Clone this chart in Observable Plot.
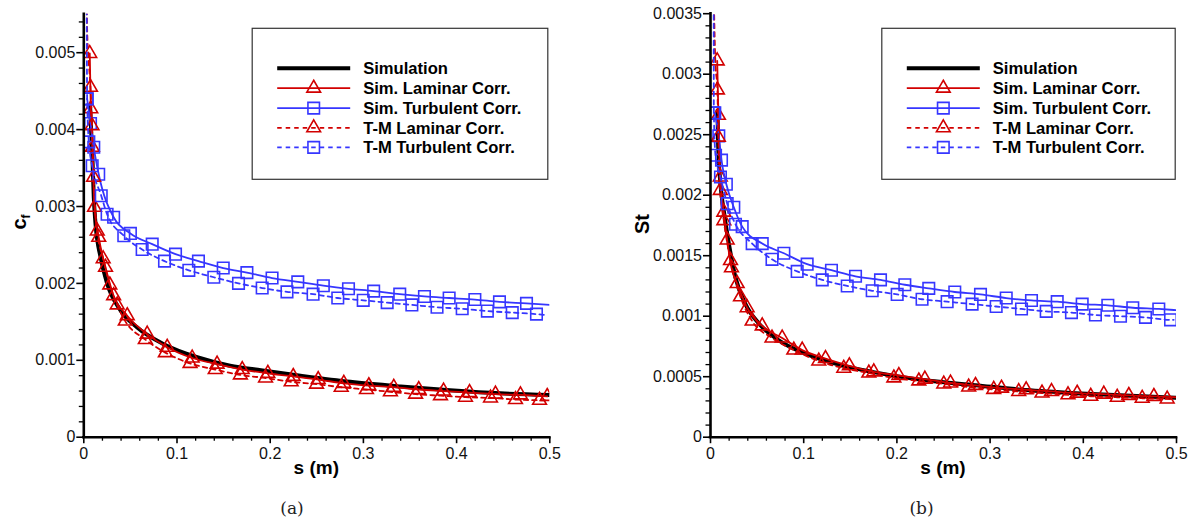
<!DOCTYPE html>
<html>
<head>
<meta charset="utf-8">
<script src="https://cdn.jsdelivr.net/npm/d3@7"></script>
<script src="https://cdn.jsdelivr.net/npm/@observablehq/plot@0.6"></script>
<style>
  html, body { margin: 0; padding: 0; background: #fff; }
  body { width: 1193px; height: 522px; overflow: hidden; position: relative; font-family: "Liberation Sans", Arial, sans-serif; }
  .panel { position: absolute; top: 0; }
  #overlay { position: absolute; left: 0; top: 0; pointer-events: none; }
</style>
</head>
<body>
<div id="pa" class="panel" style="left:0px"></div>
<div id="pb" class="panel" style="left:597px"></div>
<svg id="overlay" width="1193" height="522"></svg>
<script>
// ---------- Panel (a): skin friction coefficient c_f vs s (m) ----------
const aSimS  = [0.0068, 0.0078, 0.009, 0.0107, 0.0126, 0.018, 0.025, 0.0394, 0.057, 0.0858, 0.1217, 0.157, 0.19, 0.2325, 0.286, 0.34, 0.393, 0.447, 0.5];
const aSimV  = [0.0043, 0.0040, 0.00373, 0.00312, 0.00277, 0.00234, 0.0020, 0.00165, 0.00143, 0.00121, 0.00104, 0.00093, 0.00087, 0.0008, 0.00072, 0.00066, 0.00061, 0.00057, 0.00055];

const aSimLamS = [0.0064, 0.0075, 0.0092, 0.0115, 0.016, 0.0233, 0.032, 0.0466, 0.068, 0.0895, 0.1163, 0.143, 0.17, 0.1975, 0.2247, 0.2515, 0.279, 0.3058, 0.3326, 0.3594, 0.386, 0.4139, 0.4417, 0.4685, 0.4972];
const aSimLamV = [0.00499, 0.00427, 0.00377, 0.00299, 0.0026, 0.00221, 0.00184, 0.00158, 0.00134, 0.00117, 0.00103, 0.00095, 0.00088, 0.00083, 0.00079, 0.00075, 0.0007, 0.00067, 0.00065, 0.00062, 0.0006, 0.00058, 0.00056, 0.00055, 0.00053];

const aSimTurbS = [0.0036, 0.0072, 0.0107, 0.016, 0.032, 0.050, 0.0734, 0.0984, 0.123, 0.1496, 0.175, 0.202, 0.2296, 0.257, 0.284, 0.311, 0.339, 0.3655, 0.392, 0.4196, 0.446, 0.475, 0.5];
const aSimTurbV = [0.0044, 0.00408, 0.00377, 0.00342, 0.00286, 0.00265, 0.00251, 0.00238, 0.00229, 0.0022, 0.00214, 0.00207, 0.00202, 0.00197, 0.00193, 0.0019, 0.00186, 0.00183, 0.00181, 0.00179, 0.00176, 0.00174, 0.00172];

const aTmLamS = [0.0029, 0.0036, 0.0052, 0.0072, 0.0088, 0.0105, 0.0144, 0.0208, 0.0279, 0.0358, 0.0445, 0.066, 0.0875, 0.114, 0.141, 0.168, 0.195, 0.2225, 0.2497, 0.2762, 0.3033, 0.329, 0.356, 0.3827, 0.4095, 0.4364, 0.4632, 0.489, 0.497];
const aTmLamV = [0.0060, 0.0053, 0.0049, 0.00455, 0.00405, 0.00338, 0.00268, 0.00232, 0.00198, 0.00172, 0.00151, 0.00127, 0.0011, 0.00096, 0.00088, 0.00081, 0.00077, 0.00072, 0.00069, 0.00065, 0.00062, 0.00059, 0.00056, 0.00054, 0.00052, 0.00051, 0.00049, 0.00048, 0.000478];

const aTmTurbS = [0.0030, 0.0036, 0.0054, 0.009, 0.0187, 0.025, 0.0429, 0.0626, 0.0866, 0.1127, 0.1395, 0.166, 0.1914, 0.218, 0.246, 0.2725, 0.2998, 0.3255, 0.352, 0.379, 0.406, 0.433, 0.4597, 0.4857, 0.494];
const aTmTurbV = [0.0060, 0.0044, 0.00384, 0.00353, 0.00314, 0.0029, 0.00262, 0.00244, 0.00229, 0.00217, 0.00208, 0.002, 0.00194, 0.00189, 0.00186, 0.00181, 0.00178, 0.00175, 0.00172, 0.00169, 0.00167, 0.00164, 0.00162, 0.0016, 0.00159];

// ---------- Panel (b): Stanton number St vs s (m) ----------
const bSimS = [0.0075, 0.0082, 0.0107, 0.0143, 0.0197, 0.0268, 0.0375, 0.0519, 0.0733, 0.1019, 0.1377, 0.1735, 0.2307, 0.2843, 0.338, 0.3916, 0.4453, 0.4989];
const bSimV = [0.0027, 0.00242, 0.00209, 0.00187, 0.0016, 0.00132, 0.0011, 0.00094, 0.0008, 0.00069, 0.0006, 0.00054, 0.00047, 0.00043, 0.00039, 0.000364, 0.000345, 0.000326];

const bSimLamS = [0.0072, 0.0085, 0.0105, 0.0143, 0.0179, 0.0225, 0.0286, 0.0393, 0.0555, 0.0769, 0.0984, 0.1234, 0.149, 0.1752, 0.2021, 0.23, 0.2575, 0.2843, 0.3122, 0.3387, 0.3659, 0.3934, 0.422, 0.4488, 0.4757, 0.499];
const bSimLamV = [0.00311, 0.00266, 0.00215, 0.00186, 0.00163, 0.0014, 0.00127, 0.00107, 0.00092, 0.00082, 0.00072, 0.00065, 0.00059, 0.00054, 0.00051, 0.00048, 0.000448, 0.000428, 0.000405, 0.000392, 0.000378, 0.000364, 0.000356, 0.000345, 0.000337, 0.00033];

const bSimTurbS = [0.0046, 0.0089, 0.0118, 0.017, 0.025, 0.034, 0.0555, 0.0787, 0.1037, 0.1298, 0.1556, 0.1824, 0.2085, 0.2342, 0.2621, 0.2897, 0.3173, 0.3444, 0.372, 0.3988, 0.4263, 0.4531, 0.481, 0.4995];
const bSimTurbV = [0.00268, 0.00249, 0.00229, 0.00209, 0.0019, 0.00174, 0.0016, 0.00152, 0.00143, 0.00138, 0.00133, 0.0013, 0.00126, 0.00123, 0.0012, 0.00118, 0.00115, 0.00113, 0.00112, 0.0011, 0.00109, 0.00107, 0.00106, 0.00105];

const bTmLamS = [0.0034, 0.0052, 0.0074, 0.0084, 0.0105, 0.0143, 0.0215, 0.0322, 0.0447, 0.066, 0.0894, 0.1162, 0.143, 0.1699, 0.1967, 0.2235, 0.2503, 0.277, 0.3039, 0.3307, 0.3557, 0.3836, 0.408, 0.4364, 0.4632, 0.49, 0.497];
const bTmLamV = [0.0037, 0.0031, 0.00287, 0.00248, 0.00204, 0.00179, 0.00146, 0.00116, 0.00096, 0.00082, 0.00072, 0.00063, 0.00057, 0.00053, 0.00049, 0.000465, 0.00044, 0.000415, 0.000395, 0.000378, 0.000365, 0.00035, 0.000338, 0.00033, 0.000322, 0.000316, 0.000314];

const bTmTurbS = [0.0034, 0.0036, 0.0054, 0.0107, 0.0179, 0.0268, 0.0447, 0.066, 0.093, 0.1199, 0.1467, 0.1735, 0.2003, 0.227, 0.2539, 0.2807, 0.3065, 0.3337, 0.3602, 0.3873, 0.413, 0.4399, 0.4667, 0.4936, 0.497];
const bTmTurbV = [0.0037, 0.00268, 0.00233, 0.00215, 0.00193, 0.00176, 0.0016, 0.00147, 0.00137, 0.0013, 0.00125, 0.00121, 0.00118, 0.00114, 0.00112, 0.0011, 0.00108, 0.00106, 0.00104, 0.00103, 0.00101, 0.001, 0.00099, 0.00097, 0.00097];

// ---------- tick labels / legend labels ----------
const xTicks = [0, 0.1, 0.2, 0.3, 0.4, 0.5];
const aYTicks = [0, 0.001, 0.002, 0.003, 0.004, 0.005];
const bYTicks = [0, 0.0005, 0.001, 0.0015, 0.002, 0.0025, 0.003, 0.0035];
const legendLabels = ["Simulation", "Sim. Laminar Corr.", "Sim. Turbulent Corr.", "T-M Laminar Corr.", "T-M Turbulent Corr."];

// ---------- styling ----------
const RED = "#d20000", BLUE = "#3636ff", BLACK = "#000";
const DASH = "4.5,4";
const TRI_R = 5.1, SQ_R = 6.5;
const FONT = "Liberation Sans, Arial, Helvetica, sans-serif";

function pts(s, v) { return s.map((x, i) => ({s: x, v: v[i]})); }

function seriesMarks(s, v, opt) {
  const data = pts(s, v);
  const marks = [Plot.line(data, {x: "s", y: "v", stroke: opt.stroke, strokeWidth: opt.w,
    strokeDasharray: opt.dash || null, curve: "monotone-x", clip: true})];
  if (opt.symbol) {
    const mk = data.filter((d, i) => i >= opt.mk[0] && i <= opt.mk[1]);
    marks.push(Plot.dot(mk, {x: "s", y: "v", symbol: opt.symbol, r: opt.symbol === "triangle" ? TRI_R : SQ_R,
      stroke: opt.stroke, strokeWidth: 1.6, fill: "none", clip: true}));
  }
  return marks;
}

function fmt(d) { return d === 0 ? "0" : String(+d.toFixed(5)); }

function panel({width, mL, mR, mT, yMax, yTicks, yMinorStep, series}) {
  const H = 480, mB = 480 - 436.7;
  const xMinor = d3.range(0, 0.5001, 0.02).filter(d => Math.abs(d * 10 - Math.round(d * 10)) > 1e-6);
  const yMinor = d3.range(0, yMax + 1e-9, yMinorStep).filter(d => !yTicks.some(t => Math.abs(t - d) < 1e-9));
  const txt = {fontSize: 16, fontFamily: FONT, fill: "#111"};
  return Plot.plot({
    width, height: H,
    marginLeft: mL, marginRight: mR, marginTop: mT, marginBottom: mB,
    x: {domain: [0, 0.5]},
    y: {domain: [0, yMax]},
    style: {fontFamily: FONT, fontSize: "16px", color: "#111", background: "transparent", overflow: "visible"},
    marks: [
      ...series.flatMap(sr => seriesMarks(sr.s, sr.v, sr)),
      Plot.axisX(xMinor, {tickSize: 4, text: null, label: null, strokeWidth: 1.3, stroke: "#000"}),
      Plot.axisY(yMinor, {tickSize: 4.5, text: null, label: null, strokeWidth: 1.3, stroke: "#000"}),
      Plot.axisX(xTicks, {tickSize: 6.5, text: null, label: null, strokeWidth: 1.6, stroke: "#000"}),
      Plot.axisY(yTicks, {tickSize: 7, text: null, label: null, strokeWidth: 1.6, stroke: "#000"}),
      // tick labels drawn as text marks positioned by the plot's scales
      Plot.text(xTicks, {x: d => d, y: 0, text: fmt, frameAnchor: "bottom", dy: 16.5, lineAnchor: "middle", ...txt}),
      Plot.text(yTicks, {x: 0, y: d => d, text: fmt, textAnchor: "end", dx: -8.5, lineAnchor: "middle", ...txt}),
      Plot.ruleX([0], {stroke: "#000", strokeWidth: 2.6, strokeLinecap: "square"}),
      Plot.ruleY([0], {stroke: "#000", strokeWidth: 2.6, strokeLinecap: "square"})
    ]
  });
}

const aSeries = [
  {s: aSimS, v: aSimV, stroke: BLACK, w: 4},
  {s: aSimLamS, v: aSimLamV, stroke: RED, w: 1.8, symbol: "triangle", mk: [0, 24]},
  {s: aSimTurbS, v: aSimTurbV, stroke: BLUE, w: 1.8, symbol: "square", mk: [0, 21]},
  {s: aTmLamS, v: aTmLamV, stroke: RED, w: 1.8, dash: DASH, symbol: "triangle", mk: [3, 27]},
  {s: aTmTurbS, v: aTmTurbV, stroke: BLUE, w: 1.8, dash: DASH, symbol: "square", mk: [1, 23]}
];
const bSeries = [
  {s: bSimS, v: bSimV, stroke: BLACK, w: 4},
  {s: bSimLamS, v: bSimLamV, stroke: RED, w: 1.8, symbol: "triangle", mk: [0, 24]},
  {s: bSimTurbS, v: bSimTurbV, stroke: BLUE, w: 1.8, symbol: "square", mk: [0, 22]},
  {s: bTmLamS, v: bTmLamV, stroke: RED, w: 1.8, dash: DASH, symbol: "triangle", mk: [2, 25]},
  {s: bTmTurbS, v: bTmTurbV, stroke: BLUE, w: 1.8, dash: DASH, symbol: "square", mk: [1, 23]}
];

const svgA = panel({width: 597, mL: 83.3, mR: 47.7, mT: 13.75, yMax: 0.0055, yTicks: aYTicks, yMinorStep: 0.0002, series: aSeries});
const svgB = panel({width: 596, mL: 113, mR: 17, mT: 13.2, yMax: 0.0035, yTicks: bYTicks, yMinorStep: 0.0001, series: bSeries});
for (const s of [svgA, svgB]) {
  s.querySelectorAll("text").forEach(t => {
    t.setAttribute("font-size", "16");
    t.style.fontSize = "16px";
    t.style.fontFamily = "'Liberation Sans', Arial, sans-serif";
  });
}
document.getElementById("pa").append(svgA);
document.getElementById("pb").append(svgB);

// ---------- overlay: legends, axis titles, captions ----------
const ov = d3.select("#overlay");
const legStyles = [
  {stroke: BLACK, w: 4},
  {stroke: RED, w: 1.8, sym: d3.symbolTriangle, r: TRI_R},
  {stroke: BLUE, w: 1.8, sym: d3.symbolSquare, r: SQ_R},
  {stroke: RED, w: 1.8, dash: DASH, sym: d3.symbolTriangle, r: TRI_R},
  {stroke: BLUE, w: 1.8, dash: DASH, sym: d3.symbolSquare, r: SQ_R}
];
const rowY = [68.3, 88.2, 108.1, 127.8, 147.4];
function legend(x0, w) {
  const g = ov.append("g");
  g.append("rect").attr("x", x0).attr("y", 28.3).attr("width", w).attr("height", 151)
    .attr("fill", "none").attr("stroke", "#333").attr("stroke-width", 1.2);
  legendLabels.forEach((lab, i) => {
    const st = legStyles[i], y = rowY[i];
    g.append("line").attr("x1", x0 + 25).attr("x2", x0 + 98).attr("y1", y).attr("y2", y)
      .attr("stroke", st.stroke).attr("stroke-width", st.w).attr("stroke-dasharray", st.dash || null);
    if (st.sym) {
      g.append("path").attr("d", d3.symbol(st.sym, st.r * st.r * Math.PI)())
        .attr("transform", `translate(${x0 + 61.5},${y})`)
        .attr("fill", "none").attr("stroke", st.stroke).attr("stroke-width", 1.6);
    }
    g.append("text").attr("x", x0 + 111).attr("y", y).attr("dy", "0.36em")
      .attr("font-family", FONT).attr("font-weight", "bold").attr("font-size", 16.6)
      .attr("fill", "#000").text(lab);
  });
}
legend(252.2, 295.6);
legend(881.8, 293.4);

// x-axis titles
[[316.3, "s (m)"], [943, "s (m)"]].forEach(([x, t]) => {
  ov.append("text").attr("x", x).attr("y", 473.5).attr("text-anchor", "middle")
    .attr("font-family", FONT).attr("font-weight", "bold").attr("font-size", 19).attr("fill", "#000").text(t);
});
// y-axis titles
const cf = ov.append("text").attr("transform", "translate(26,222) rotate(-90)").attr("text-anchor", "middle")
  .attr("font-family", FONT).attr("font-weight", "bold").attr("font-size", 20).attr("fill", "#000");
cf.append("tspan").text("c");
cf.append("tspan").attr("font-size", 12).attr("dy", 4).text("f");
ov.append("text").attr("transform", "translate(649,224) rotate(-90)").attr("text-anchor", "middle")
  .attr("font-family", FONT).attr("font-weight", "bold").attr("font-size", 20).attr("fill", "#000").text("St");
// captions
[[292, "(a)"], [921.5, "(b)"]].forEach(([x, t]) => {
  ov.append("text").attr("x", x).attr("y", 514).attr("text-anchor", "middle")
    .attr("font-family", "DejaVu Serif, Liberation Serif, serif").attr("font-size", 17).attr("fill", "#222").text(t);
});
</script>
</body>
</html>
